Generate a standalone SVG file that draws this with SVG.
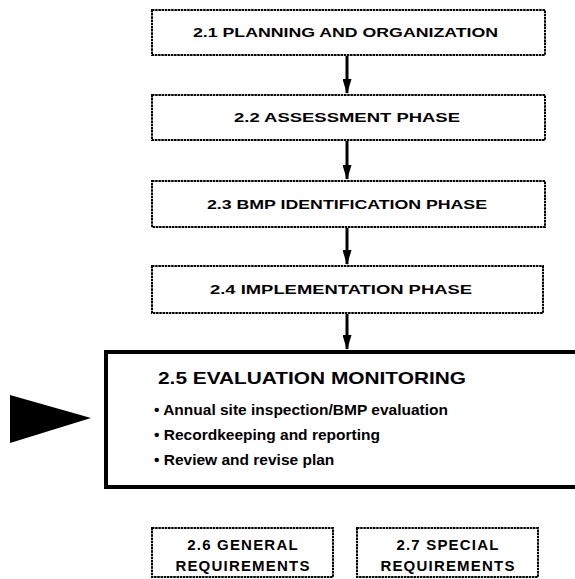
<svg xmlns="http://www.w3.org/2000/svg" width="575" height="579" viewBox="0 0 575 579">
  <defs>
    <marker id="head" viewBox="0 0 15 9" refX="14" refY="4.5" markerWidth="15" markerHeight="9" markerUnits="userSpaceOnUse" orient="auto">
      <path d="M0,0 L15,4.5 L0,9 Z" fill="#000"/>
    </marker>
  </defs>
  <style>
    .phase { fill: #fff; stroke: #000; stroke-width: 2; stroke-dasharray: 2.5 0.7; }
    .main { fill: #fff; stroke: #000; stroke-width: 4; }
    .lbl { font-family: "Liberation Sans", Arial, sans-serif; font-weight: bold; font-size: 12.5px; fill: #000; }
    .req { font-family: "Liberation Sans", Arial, sans-serif; font-weight: bold; font-size: 15px; letter-spacing: 1.2px; fill: #000; text-anchor: middle; }
    .title { font-family: "Liberation Sans", Arial, sans-serif; font-weight: bold; font-size: 17px; fill: #000; }
    .item { font-family: "Liberation Sans", Arial, sans-serif; font-weight: bold; font-size: 15.5px; fill: #000; }
    .conn { stroke: #000; stroke-width: 3; fill: none; }
  </style>

  <!-- phase boxes -->
  <g id="n21">
    <rect class="phase" x="152" y="10" width="393" height="45"/>
    <text class="lbl" x="193" y="37" textLength="305" lengthAdjust="spacingAndGlyphs">2.1 PLANNING AND ORGANIZATION</text>
  </g>
  <g id="n22">
    <rect class="phase" x="152" y="95" width="393" height="45"/>
    <text class="lbl" x="234" y="122" textLength="226" lengthAdjust="spacingAndGlyphs">2.2 ASSESSMENT PHASE</text>
  </g>
  <g id="n23">
    <rect class="phase" x="152" y="181" width="393" height="46"/>
    <text class="lbl" x="207" y="209" textLength="280" lengthAdjust="spacingAndGlyphs">2.3 BMP IDENTIFICATION PHASE</text>
  </g>
  <g id="n24">
    <rect class="phase" x="152" y="266" width="391" height="47"/>
    <text class="lbl" x="210" y="294" textLength="262" lengthAdjust="spacingAndGlyphs">2.4 IMPLEMENTATION PHASE</text>
  </g>

  <!-- current phase -->
  <g id="n25">
    <rect class="main" x="106" y="352" width="490" height="135"/>
    <text class="title" x="158" y="384" textLength="308" lengthAdjust="spacingAndGlyphs">2.5  EVALUATION MONITORING</text>
    <text class="item" x="154" y="415">• Annual site inspection/BMP evaluation</text>
    <text class="item" x="154" y="440">• Recordkeeping and reporting</text>
    <text class="item" x="154" y="465">• Review and revise plan</text>
  </g>

  <!-- pointer -->
  <g id="pointer">
    <polygon points="10,395 10,443 91,418" fill="#000"/>
  </g>

  <!-- requirement boxes -->
  <g id="n26">
    <rect class="phase" x="152" y="528" width="181" height="49"/>
    <text class="req" x="243" y="550">2.6 GENERAL</text>
    <text class="req" x="243" y="571">REQUIREMENTS</text>
  </g>
  <g id="n27">
    <rect class="phase" x="357" y="528" width="181" height="49"/>
    <text class="req" x="448" y="550">2.7 SPECIAL</text>
    <text class="req" x="448" y="571">REQUIREMENTS</text>
  </g>

  <!-- connectors -->
  <g id="connectors">
    <line class="conn" x1="347" y1="56" x2="347" y2="93" marker-end="url(#head)"/>
    <line class="conn" x1="347" y1="141" x2="347" y2="179" marker-end="url(#head)"/>
    <line class="conn" x1="347" y1="228" x2="347" y2="264" marker-end="url(#head)"/>
    <line class="conn" x1="347" y1="314" x2="347" y2="349" marker-end="url(#head)"/>
  </g>
</svg>
